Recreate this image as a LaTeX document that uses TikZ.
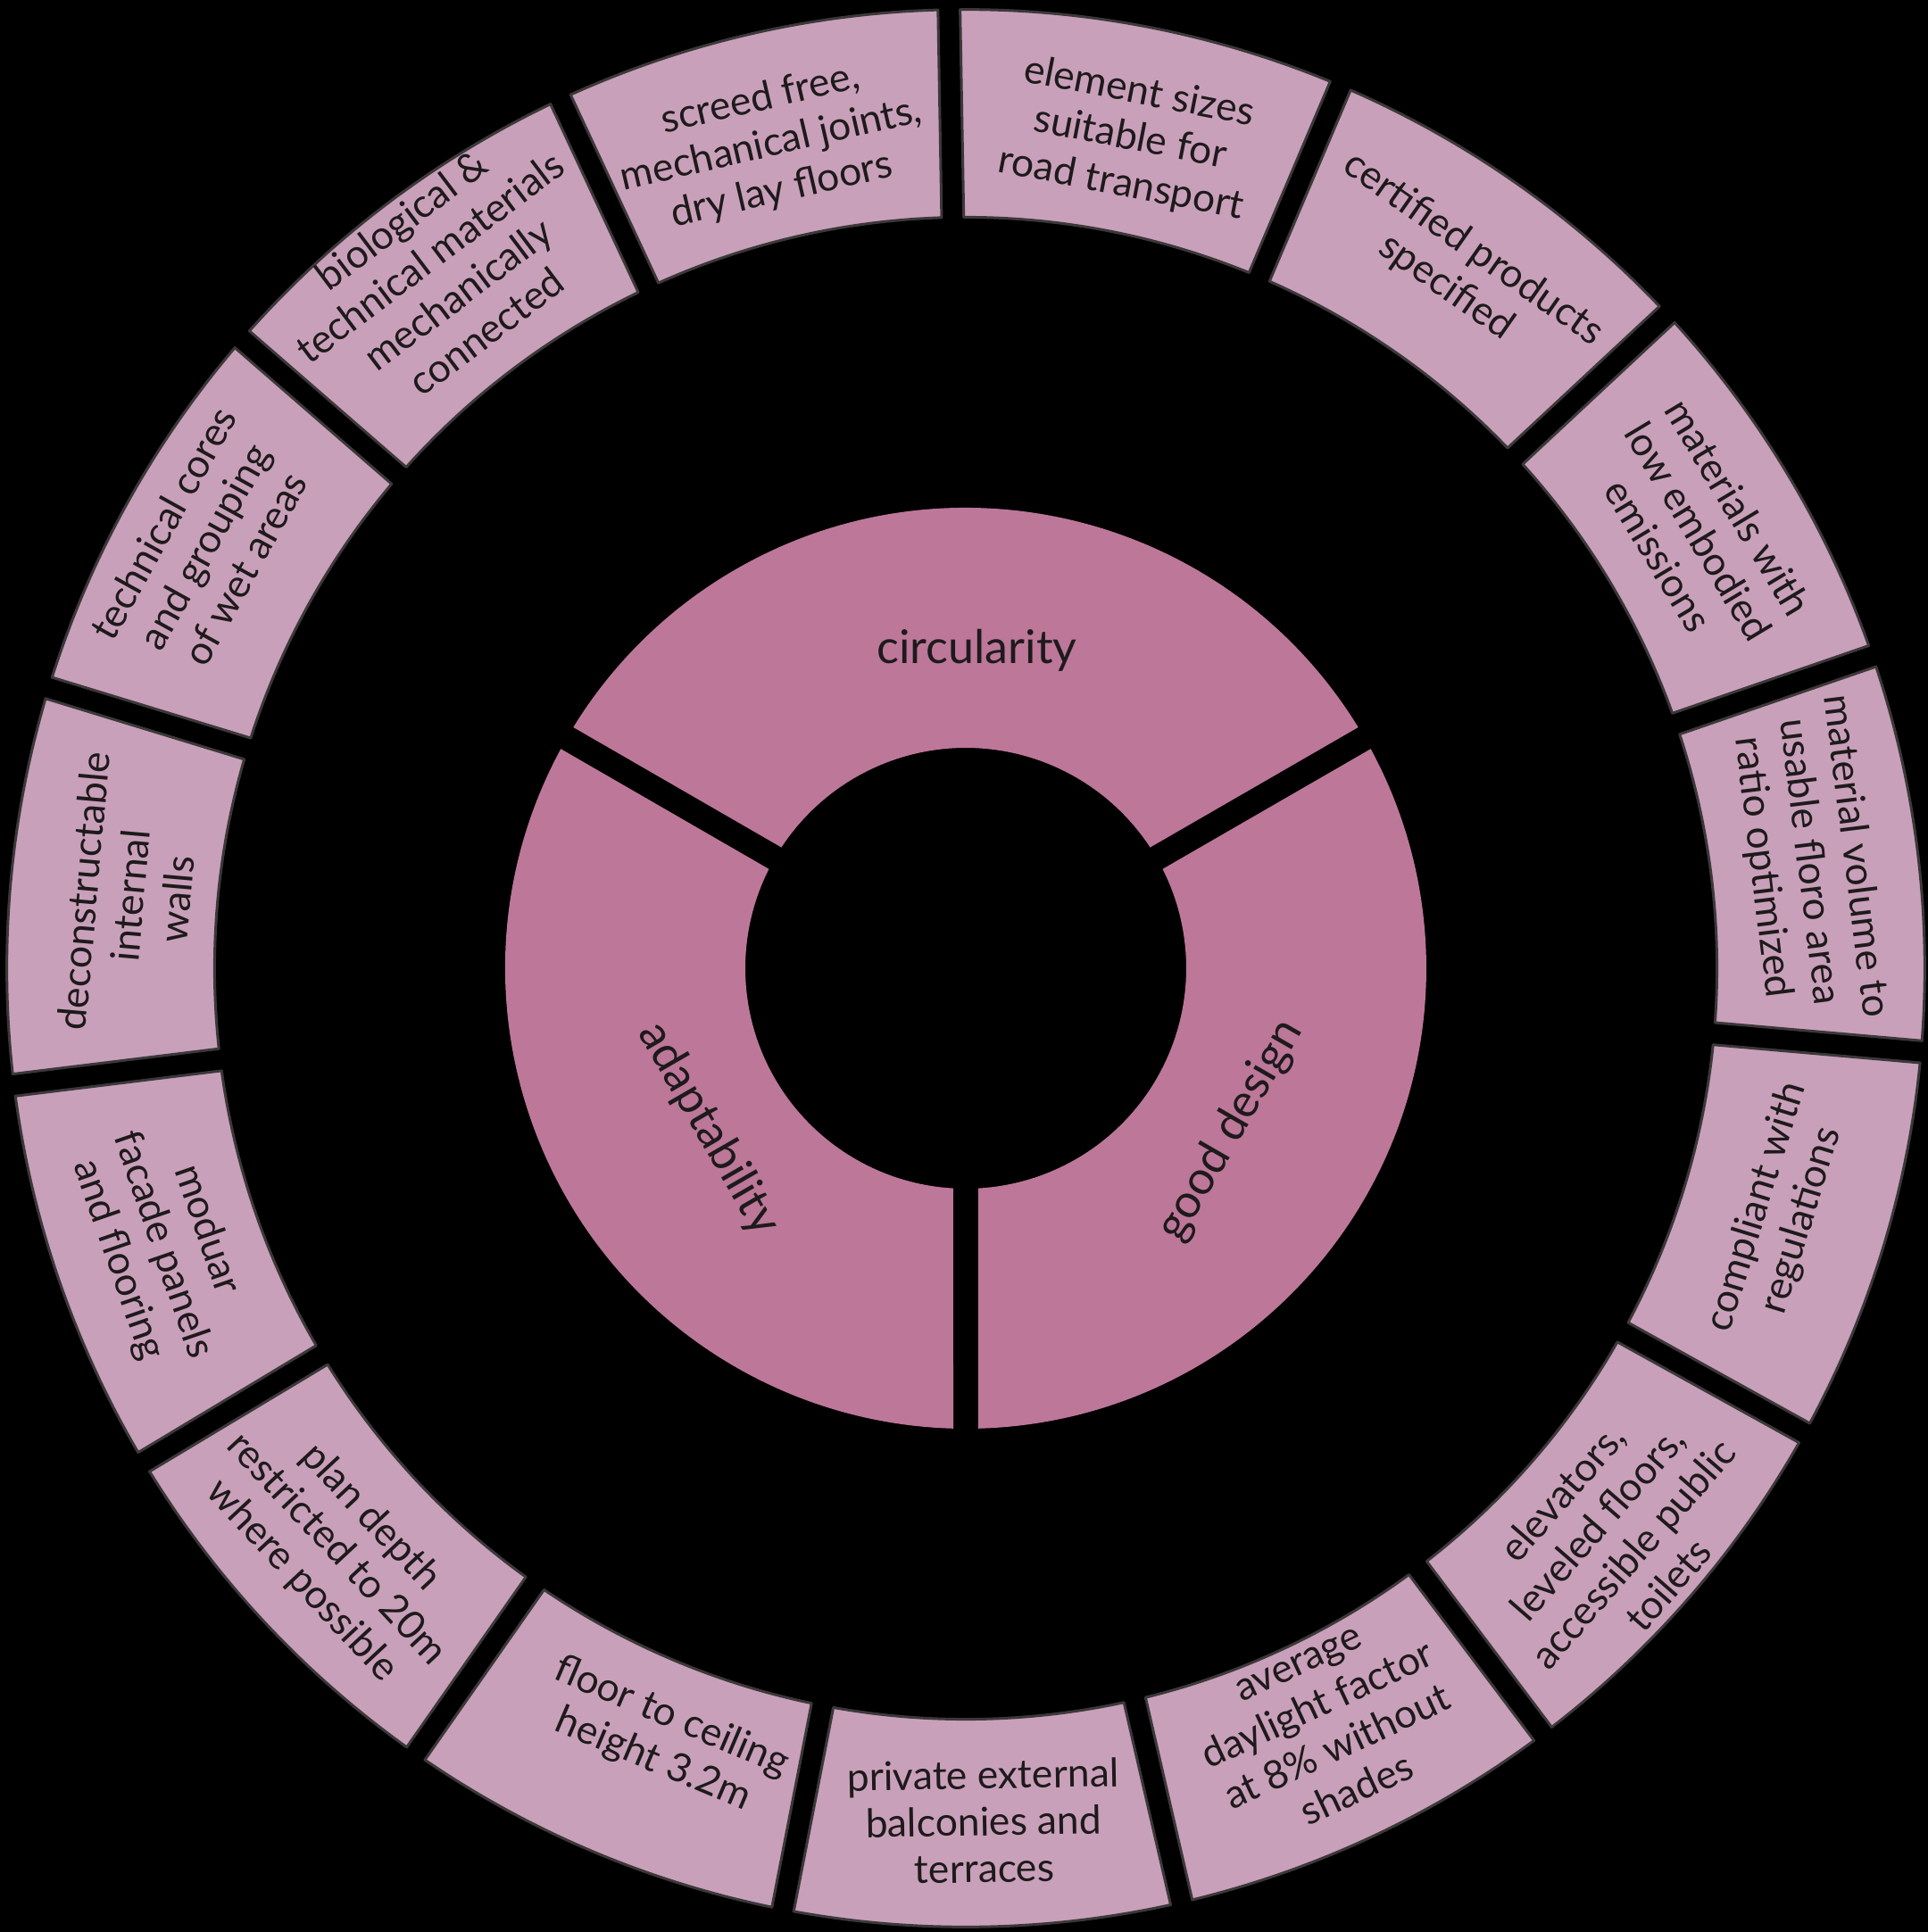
\documentclass[tikz,border=0pt]{standalone}
\usepackage{fontspec}
\setmainfont{Lato}
\definecolor{innerfill}{RGB}{188,119,153}
\definecolor{outerfill}{RGB}{201,160,185}
\definecolor{edgegray}{RGB}{60,56,58}
\definecolor{txt}{RGB}{30,26,28}
\newcommand\ringseg[6]{%
  \pgfmathsetmacro\segOA{#2+asin(#6/#5)}%
  \pgfmathsetmacro\segOB{#3-asin(#6/#5)}%
  \pgfmathsetmacro\segIA{#2+asin(#6/#4)}%
  \pgfmathsetmacro\segIB{#3-asin(#6/#4)}%
  \path[#1] (\segOA:#5pt) arc[start angle=\segOA, end angle=\segOB, radius=#5pt]
    -- (\segIB:#4pt) arc[start angle=\segIB, end angle=\segIA, radius=#4pt] -- cycle;
}
\tikzset{
  outerseg/.style={fill=outerfill, draw=edgegray, line width=0.75pt, line join=round},
  innerseg/.style={fill=innerfill},
  outlbl/.style={align=center, text=txt, inner sep=0pt, font=\fontsize{11.1}{13.1}\selectfont},
  inlbl/.style={align=center, text=txt, inner sep=0pt, font=\fontsize{13}{15}\selectfont},
}
\begin{document}
\begin{tikzpicture}
\fill[black] (-270.5pt,-270pt) rectangle (269.5pt,271.25pt);
\useasboundingbox (-270.5pt,-270pt) rectangle (269.5pt,271.25pt);
% outer ring: 15 segments of 24 degrees (rotated by 1 degree)
\foreach \c in {103,79,55,31,7,-17,-41,-65,-89,-113,-137,-161,175,151,127}{
  \pgfmathsetmacro\ca{\c-12}
  \pgfmathsetmacro\cb{\c+12}
  \ringseg{outerseg}{\ca}{\cb}{210.4}{268.6}{3.1}
}
% inner ring: 3 segments
\ringseg{innerseg}{30}{150}{61.75}{129}{3.5}
\ringseg{innerseg}{-90}{30}{61.75}{129}{3.5}
\ringseg{innerseg}{150}{270}{61.75}{129}{3.5}
% inner labels
\node[inlbl] (circ) at (88:89pt) {circularity};
\node[inlbl, rotate=60] (good) at (-31.5:87pt) {good design};
\node[inlbl, rotate=-60] (adapt) at (212:85pt) {adaptability};
% outer labels
\node[outlbl, rotate=13] (s1) at (103.3:237pt) {screed free,\\mechanical joints,\\dry lay floors};
\node[outlbl, rotate=-11] (s2) at (78.8:237pt) {element sizes\\suitable for\\road transport};
\node[outlbl, rotate=-35] (s3) at (54.8:240pt) {certified products\\specified};
\node[outlbl, rotate=-59] (s4) at (30.8:239pt) {materials with\\low embodied\\emissions};
\node[outlbl, rotate=-83] (s5) at (7.2:238pt) {material volume to\\usable floro area\\ratio optimized};
\node[outlbl, rotate=73] (s6) at (-16.8:238pt) {compliant with\\regulations};
\node[outlbl, rotate=49] (s7) at (-41.3:242pt) {elevators,\\leveled floors,\\accessible public\\toilets};
\node[outlbl, rotate=25] (s8) at (-64.5:236pt) {average\\daylight factor\\at 8\% without\\shades};
\node[outlbl, rotate=1] (s9) at (-88.8:239pt) {private external\\balconies and\\terraces};
\node[outlbl, rotate=-23] (s10) at (-111.5:232pt) {floor to ceiling\\height 3.2m};
\node[outlbl, rotate=-47] (s11) at (-137.3:240pt) {plan depth\\restricted to 20m\\where possible};
\node[outlbl, rotate=-71] (s12) at (-161:238pt) {moduar\\facade panels\\and flooring};
\node[outlbl, rotate=85] (s13) at (175:235pt) {deconstructable\\internal\\walls};
\node[outlbl, rotate=61] (s14) at (151:244pt) {technical cores\\and grouping\\of wet areas};
\node[outlbl, rotate=37] (s15) at (127:243pt) {biological \&\\technical materials\\mechanically\\connected};
\end{tikzpicture}
\end{document}
